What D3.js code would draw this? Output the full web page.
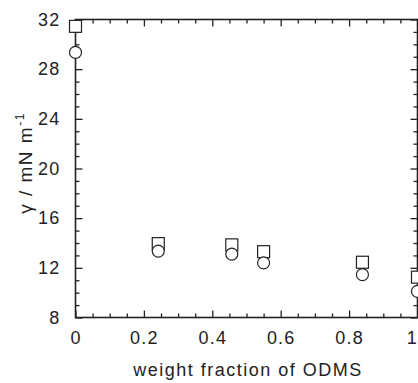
<!DOCTYPE html>
<html><head><meta charset="utf-8">
<script src="https://cdn.jsdelivr.net/npm/d3@7"></script>
<style>
html,body{margin:0;padding:0;background:#fff;overflow:hidden;}
text{font-family:"Liberation Sans",Arial,Helvetica,sans-serif;fill:#222;}
</style></head>
<body>
<svg id="chart" width="418" height="383"></svg>
<script>
// Data
const fractions = [0, 0.242, 0.457, 0.55, 0.839, 1.0];
const squareValues = [31.45, 13.95, 13.85, 13.3, 12.45, 11.25];
const circleValues = [29.35, 13.35, 13.1, 12.4, 11.45, 10.1];
const xTickValues = [0, 0.2, 0.4, 0.6, 0.8, 1];
const xTickLabels = ["0", "0.2", "0.4", "0.6", "0.8", "1"];
const yTickValues = [8, 12, 16, 20, 24, 28, 32];
const yTickLabels = ["8", "12", "16", "20", "24", "28", "32"];
const xTitle = "weight fraction of ODMS";

const svg = d3.select("#chart");
const L = 75.5, R = 417.5, T = 19.5, B = 317.5;
const x = d3.scaleLinear().domain([0, 1]).range([L, R]);
const y = d3.scaleLinear().domain([8, 32]).range([B, T]);
const ink = "#222";

const xMinor = d3.range(0, 1.0001, 0.05).filter(v => !xTickValues.some(t => Math.abs(t - v) < 1e-6));
const yMinor = d3.range(8, 32.0001, 1).filter(v => !yTickValues.includes(v));

// frame
svg.append("rect").attr("x", L).attr("y", T).attr("width", R - L).attr("height", B - T)
  .attr("fill", "none").attr("stroke", ink).attr("stroke-width", 1.6);

// bottom axis
const gB = svg.append("g").attr("transform", `translate(0,${B})`)
  .call(d3.axisBottom(x).tickValues(xTickValues).tickFormat((d, i) => xTickLabels[i]).tickSize(-7).tickPadding(14));
gB.append("g").call(d3.axisBottom(x).tickValues(xMinor).tickFormat("").tickSize(-4));
// top axis
const gT = svg.append("g").attr("transform", `translate(0,${T})`)
  .call(d3.axisTop(x).tickValues(xTickValues).tickFormat("").tickSize(-7));
gT.append("g").call(d3.axisTop(x).tickValues(xMinor).tickFormat("").tickSize(-4));
// left axis
const gL = svg.append("g").attr("transform", `translate(${L},0)`)
  .call(d3.axisLeft(y).tickValues(yTickValues).tickFormat((d, i) => yTickLabels[i]).tickSize(-7).tickPadding(15));
gL.append("g").call(d3.axisLeft(y).tickValues(yMinor).tickFormat("").tickSize(-4));
// right axis
const gR = svg.append("g").attr("transform", `translate(${R},0)`)
  .call(d3.axisRight(y).tickValues(yTickValues).tickFormat("").tickSize(-7));
gR.append("g").call(d3.axisRight(y).tickValues(yMinor).tickFormat("").tickSize(-4));

svg.selectAll(".domain").remove();
svg.selectAll(".tick line").attr("stroke", ink).attr("stroke-width", 1.3);
svg.selectAll(".tick text").attr("font-size", 18).attr("fill", ink)
  .attr("letter-spacing", 1.2)
  .style("font-family", '"Liberation Sans",Arial,sans-serif');
// last x label sits at the right edge, as in the reference; keep it inside the view
gB.selectAll(".tick text").filter((d) => d === 1).attr("text-anchor", "end").attr("dx", 0);

// markers
const s = 12;
svg.append("g").selectAll("rect").data(fractions).join("rect")
  .attr("x", (d) => x(d) - s / 2).attr("y", (d, i) => y(squareValues[i]) - s / 2)
  .attr("width", s).attr("height", s)
  .attr("fill", "#fff").attr("stroke", ink).attr("stroke-width", 1.2);
svg.append("g").selectAll("circle").data(fractions).join("circle")
  .attr("cx", (d) => x(d)).attr("cy", (d, i) => y(circleValues[i])).attr("r", 6)
  .attr("fill", "#fff").attr("stroke", ink).attr("stroke-width", 1.2);

// titles
svg.append("text").attr("x", 248).attr("y", 376).attr("text-anchor", "middle")
  .attr("font-size", 18).attr("letter-spacing", 1.5).text(xTitle);
const yt = svg.append("text").attr("transform", "translate(32,163) rotate(-90)")
  .attr("text-anchor", "middle").attr("font-size", 19).attr("letter-spacing", 1.5);
yt.append("tspan").text("γ / mN m");
yt.append("tspan").attr("dy", -8).attr("font-size", 12).text("-1");
</script>
</body></html>
